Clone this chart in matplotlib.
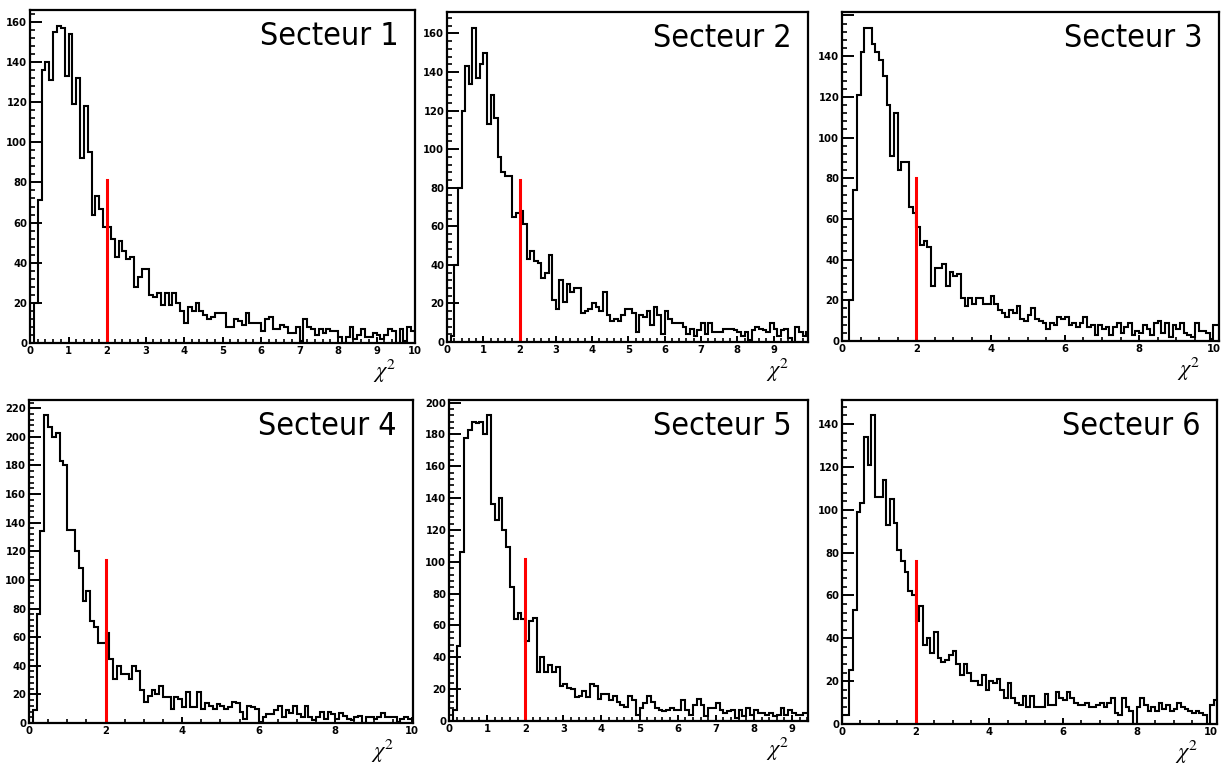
import numpy as np
import matplotlib
matplotlib.use("Agg")
import matplotlib.pyplot as plt
from matplotlib import font_manager as fm
from matplotlib.ticker import MultipleLocator, FuncFormatter
from matplotlib.transforms import offset_copy

plt.rcParams['mathtext.fontset'] = 'stix'

# chi2 distributions per sector, bins of 0.1 starting at 0
bin_width = 0.1

chi2_s1 = [0, 20, 71, 136, 140, 131, 155, 158, 157, 133,
           154, 119, 132, 92, 118, 95, 64, 73, 67, 58,
           58, 52, 43, 51, 46, 42, 43, 28, 33, 37,
           37, 24, 23, 25, 19, 25, 19, 25, 20, 16,
           10, 18, 16, 20, 16, 14, 12, 13, 15, 15,
           15, 8, 8, 12, 11, 9, 15, 10, 10, 10,
           6, 12, 13, 7, 7, 9, 8, 5, 5, 8,
           1, 12, 8, 7, 4, 7, 5, 7, 6, 6,
           3, 0, 3, 8, 2, 4, 7, 3, 3, 5,
           4, 2, 4, 7, 6, 0, 7, 1, 8, 6]

chi2_s2 = [0, 3, 40, 80, 120, 143, 134, 163, 137, 144,
           150, 113, 128, 116, 96, 88, 86, 86, 65, 67,
           68, 61, 43, 47, 42, 41, 33, 36, 45, 22,
           17, 32, 21, 30, 26, 28, 28, 15, 16, 17,
           20, 18, 16, 26, 14, 11, 12, 11, 14, 17,
           17, 15, 5, 14, 13, 16, 9, 18, 14, 4,
           16, 12, 10, 10, 10, 8, 4, 7, 3, 6,
           10, 4, 10, 5, 5, 5, 7, 7, 7, 6,
           5, 3, 5, 1, 6, 8, 7, 6, 5, 10,
           7, 3, 6, 7, 2, 0, 8, 5, 3, 5]

chi2_s3 = [0, 0, 20, 74, 121, 142, 154, 154, 146, 142,
           138, 130, 116, 91, 112, 84, 88, 88, 66, 63,
           56, 47, 49, 46, 27, 36, 36, 38, 27, 34,
           32, 33, 21, 17, 21, 18, 21, 21, 18, 18,
           22, 18, 15, 14, 12, 15, 14, 17, 11, 10,
           13, 16, 11, 10, 9, 6, 9, 8, 12, 11,
           12, 8, 9, 7, 9, 12, 7, 8, 3, 8,
           6, 7, 3, 7, 9, 4, 7, 9, 3, 5,
           4, 8, 6, 3, 9, 10, 4, 9, 2, 8,
           6, 9, 4, 3, 2, 9, 5, 5, 4, 1,
           8, 8]

chi2_s4 = [0, 9, 76, 134, 215, 207, 200, 203, 183, 180,
           135, 135, 120, 108, 85, 92, 71, 67, 56, 56,
           63, 45, 31, 40, 34, 34, 31, 40, 36, 23,
           15, 19, 23, 20, 26, 18, 18, 10, 18, 17,
           11, 22, 11, 11, 22, 10, 14, 12, 10, 13,
           12, 10, 11, 15, 14, 8, 3, 12, 11, 10,
           1, 4, 6, 6, 9, 12, 4, 9, 7, 12,
           6, 4, 12, 4, 2, 4, 8, 3, 8, 6,
           3, 7, 5, 3, 2, 4, 5, 0, 4, 4,
           3, 4, 7, 4, 4, 4, 1, 3, 4, 3,
           2]

chi2_s5 = [0, 7, 47, 106, 178, 183, 188, 187, 188, 180,
           192, 136, 126, 140, 120, 109, 84, 64, 68, 64,
           50, 63, 65, 31, 40, 31, 35, 31, 34, 22,
           23, 21, 20, 15, 16, 19, 15, 23, 22, 14,
           17, 17, 13, 16, 12, 10, 9, 16, 13, 4,
           8, 11, 16, 12, 8, 7, 6, 7, 8, 7,
           7, 13, 7, 4, 10, 14, 10, 3, 8, 8,
           11, 7, 5, 6, 7, 2, 7, 3, 8, 4,
           7, 5, 5, 4, 5, 3, 4, 8, 4, 7,
           5, 4, 4, 5, 5]

chi2_s6 = [4, 4, 25, 53, 99, 103, 134, 121, 144, 106,
           106, 114, 93, 105, 94, 81, 76, 71, 62, 60,
           48, 55, 37, 40, 33, 43, 31, 29, 30, 32,
           34, 28, 23, 28, 24, 20, 20, 18, 23, 16,
           20, 19, 21, 16, 12, 19, 12, 10, 9, 13,
           8, 13, 8, 8, 8, 14, 9, 9, 15, 12,
           11, 15, 12, 10, 9, 9, 10, 8, 8, 9,
           10, 8, 10, 12, 5, 4, 12, 8, 6, 0,
           8, 12, 9, 6, 8, 6, 10, 7, 9, 6,
           7, 10, 8, 7, 6, 5, 6, 5, 4, 0,
           9, 11]

sectors = [chi2_s1, chi2_s2, chi2_s3, chi2_s4, chi2_s5, chi2_s6]
titles = ["Secteur 1", "Secteur 2", "Secteur 3",
          "Secteur 4", "Secteur 5", "Secteur 6"]

# selection cut drawn as a red line at chi2 = 2
chi2_cut = 2.0
cut_height = [81, 84, 80, 114, 102, 76]

x_max = [10.0, 9.95, 10.15, 10.03, 9.42, 10.18]
x_major = [1, 1, 2, 2, 1, 2]
x_minor = [0.2, 0.2, 0.5, 0.5, 0.2, 0.5]
hide_top_label = [False, False, True, False, False, False]

W, H = 1229, 769
# frame boxes in pixels: left, top, right, bottom
boxes = [(30, 10, 415, 343), (447, 12, 808, 342), (842, 12, 1219, 341),
         (29, 400, 413, 723), (449, 400, 808, 721), (842, 400, 1217, 724)]


def narrow_font(weight):
    """Pick a narrow/condensed sans face if one is installed."""
    cands = []
    for f in fm.fontManager.ttflist:
        n = f.name.lower()
        st = str(f.stretch).lower()
        if 'mono' in n or 'serif' in n.replace('sans', ''):
            continue
        if 'narrow' in n or 'condensed' in n or 'condensed' in st:
            cands.append(f)
    if not cands:
        return None
    want_bold = weight == 'bold'

    def score(f):
        w = f.weight if isinstance(f.weight, int) else (700 if 'bold' in str(f.weight) else 400)
        return (abs(w - (700 if want_bold else 400)), f.style != 'normal',
                'liberation' not in f.name.lower())
    cands.sort(key=score)
    return fm.FontProperties(fname=cands[0].fname)


title_font = narrow_font('normal')
tick_font = narrow_font('bold')
if title_font is None:
    title_font = fm.FontProperties(family='Liberation Sans')
if tick_font is None:
    tick_font = fm.FontProperties(family='Liberation Sans', weight='bold')
title_font = title_font.copy()
title_font.set_size(23)
tick_font = tick_font.copy()
tick_font.set_size(8)

fig = plt.figure(figsize=(W / 100, H / 100), dpi=100)

for i, vals in enumerate(sectors):
    l, t, r, b = boxes[i]
    ax = fig.add_axes([l / W, 1 - b / H, (r - l) / W, (b - t) / H])

    vals = np.asarray(vals, dtype=float)
    edges = np.arange(len(vals) + 1) * bin_width
    ax.stairs(vals, edges, color='black', lw=1.5, baseline=0)
    ax.plot([chi2_cut, chi2_cut], [0, cut_height[i]], color='#ff0000', lw=2.2)

    ytop = 1.05 * vals.max()
    ax.set_xlim(0, x_max[i])
    ax.set_ylim(0, ytop)

    ax.xaxis.set_major_locator(MultipleLocator(x_major[i]))
    ax.xaxis.set_minor_locator(MultipleLocator(x_minor[i]))
    ax.yaxis.set_major_locator(MultipleLocator(20))
    ax.yaxis.set_minor_locator(MultipleLocator(4))

    ax.xaxis.set_major_formatter(FuncFormatter(lambda v, p: '%d' % round(v)))
    if hide_top_label[i]:
        ax.yaxis.set_major_formatter(FuncFormatter(
            lambda v, p, top=ytop: '' if v > top - 5 else '%d' % round(v)))
    else:
        ax.yaxis.set_major_formatter(FuncFormatter(lambda v, p: '%d' % round(v)))

    ax.tick_params(axis='y', which='major', direction='in', length=8.5,
                   width=1.4, pad=2)
    ax.tick_params(axis='y', which='minor', direction='in', length=3.8, width=1.2)
    ax.tick_params(axis='x', which='major', direction='in', length=4.5,
                   width=1.4, pad=2)
    ax.tick_params(axis='x', which='minor', direction='in', length=2.6, width=1.2)
    for lab in ax.get_xticklabels() + ax.get_yticklabels():
        lab.set_fontproperties(tick_font)

    for sp in ax.spines.values():
        sp.set_linewidth(1.6)

    ax.text(1, 1, titles[i], ha='right', va='top', fontproperties=title_font,
            transform=offset_copy(ax.transAxes, fig=fig, x=-16, y=-11, units='dots'))
    ax.text(1, 0, r'$\chi^{2}$', ha='right', va='top', fontsize=16,
            transform=offset_copy(ax.transAxes, fig=fig, x=-19, y=-15, units='dots'))

fig.savefig("out.png", dpi=100, facecolor='white')
